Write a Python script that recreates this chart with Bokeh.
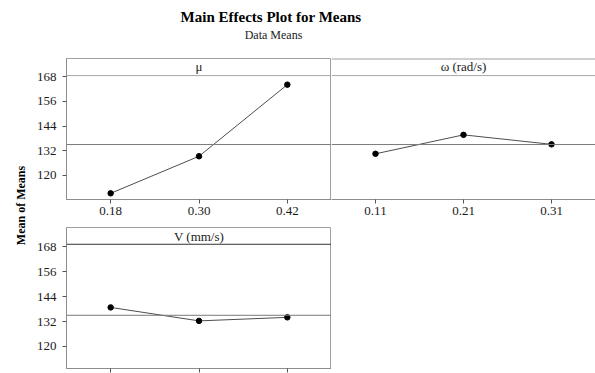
import math
from bokeh.plotting import figure
from bokeh.models import Range1d, FactorRange, Span, Label, FixedTicker, LinearAxis
from bokeh.layouts import row, column
from bokeh.embed import file_html
from bokeh.resources import INLINE

# ---- data ----
mu_levels = ["0.18", "0.30", "0.42"]
mu_means = [111.3, 129.3, 164.1]
omega_levels = ["0.11", "0.21", "0.31"]
omega_means = [130.5, 139.7, 135.1]
v_levels = ["0.18", "0.30", "0.42"]
v_means = [138.8, 132.3, 134.0]
grand_mean = 135.0
y_ticks = [120, 132, 144, 156, 168]

FONT = "Liberation Serif"
AXIS_COL = "#8c8c8c"
TXT_COL = "#1a1a1a"


def make_panel(levels, means, header, yr, header_line, header_line_color,
               header_text_y, width, height, mbl, mbt, mbb, show_y, outline=True,
               show_xlabels=True):
    p = figure(width=width, height=height, x_range=FactorRange(factors=levels),
               y_range=yr, output_backend="svg", toolbar_location=None,
               min_border_left=mbl, min_border_right=0, min_border_top=mbt,
               min_border_bottom=mbb,
               x_axis_location="below" if show_xlabels else None,
               y_axis_location="left" if show_y else None)
    p.grid.visible = False
    p.background_fill_color = "white"
    p.border_fill_color = "white"
    p.outline_line_color = "#a0a0a0" if outline else None
    # reference (grand mean) line and header strip line
    p.add_layout(Span(location=grand_mean, dimension="width",
                      line_color="#7a7a7a", line_width=1))
    p.add_layout(Span(location=header_line, dimension="width",
                      line_color=header_line_color, line_width=1))
    if not outline:
        p.add_layout(Span(location=yr.end, dimension="width",
                          line_color="#a0a0a0", line_width=2))
    p.add_layout(Label(x=1.5, y=header_text_y, text=header, text_align="center",
                       text_baseline="middle", text_font=FONT,
                       text_font_size="13px", text_color=TXT_COL))
    p.line(levels, means, line_color="#4d4d4d", line_width=1)
    p.scatter(levels, means, size=5.5, color="black")
    if show_xlabels:
        xa = p.xaxis[0]
        xa.major_label_standoff = 3
        xa.major_label_text_font = FONT
        xa.major_label_text_font_size = "13px"
        xa.major_label_text_color = TXT_COL
    else:
        # the tick labels of this panel fall outside the picture in the reference:
        # only the tick marks at the factor centres are kept
        centres = [i + 0.5 for i in range(len(levels))]
        xa = LinearAxis(ticker=FixedTicker(ticks=centres, minor_ticks=[]),
                        major_label_overrides={c: "" for c in centres},
                        major_label_standoff=0)
        p.add_layout(xa, "below")
    xa.axis_line_color = AXIS_COL
    xa.major_tick_line_color = "#555555"
    xa.major_tick_in = 0
    xa.major_tick_out = 4
    xa.minor_tick_line_color = None
    if show_y:
        ya = p.yaxis[0]
        ya.ticker = FixedTicker(ticks=y_ticks)
        ya.axis_line_color = AXIS_COL
        ya.major_tick_line_color = "#555555"
        ya.major_tick_in = 0
        ya.major_tick_out = 4
        ya.minor_tick_line_color = None
        ya.major_label_standoff = 6
        ya.major_label_text_font = FONT
        ya.major_label_text_font_size = "13px"
        ya.major_label_text_color = TXT_COL
    return p


yr_top = Range1d(108.3, 176.8)
yr_bot = Range1d(109.3, 177.4)

fig_mu = make_panel(mu_levels, mu_means, "μ", yr_top, 168.5, "#a8a8a8", 172.7,
                    width=301, height=168, mbl=36, mbt=0, mbb=27, show_y=True)
fig_om = make_panel(omega_levels, omega_means, "ω (rad/s)", yr_top, 168.5, "#a8a8a8",
                    172.7, width=264, height=168, mbl=0, mbt=0, mbb=27,
                    show_y=False, outline=False)
fig_v = make_panel(v_levels, v_means, "V (mm/s)", yr_bot, 169.3, "#333333", 173.2,
                   width=301, height=147, mbl=36, mbt=1, mbb=5, show_y=True,
                   show_xlabels=False)

# title block
title_fig = figure(width=595, height=58, x_range=Range1d(0, 595), y_range=Range1d(58, 0),
                   output_backend="svg", toolbar_location=None,
                   min_border=0, x_axis_location=None, y_axis_location=None)
title_fig.grid.visible = False
title_fig.outline_line_color = None
title_fig.add_layout(Label(x=270.5, y=16, text="Main Effects Plot for Means",
                           text_align="center", text_baseline="middle",
                           text_font=FONT, text_font_size="15px",
                           text_font_style="bold", text_color="black"))
title_fig.add_layout(Label(x=273, y=34, text="Data Means", text_align="center",
                           text_baseline="middle", text_font=FONT,
                           text_font_size="12px", text_color=TXT_COL))

# y label block
ylab_fig = figure(width=30, height=315, x_range=Range1d(0, 30), y_range=Range1d(315, 0),
                  output_backend="svg", toolbar_location=None,
                  min_border=0, x_axis_location=None, y_axis_location=None)
ylab_fig.grid.visible = False
ylab_fig.outline_line_color = None
ylab_fig.add_layout(Label(x=20.5, y=147, text="Mean of Means", angle=math.pi / 2,
                          text_align="center", text_baseline="middle",
                          text_font=FONT, text_font_size="12px",
                          text_font_style="bold", text_color="black"))

layout = column(title_fig,
                row(ylab_fig, column(row(fig_mu, fig_om), fig_v)))

open("out.html", "w").write(file_html(layout, INLINE))
